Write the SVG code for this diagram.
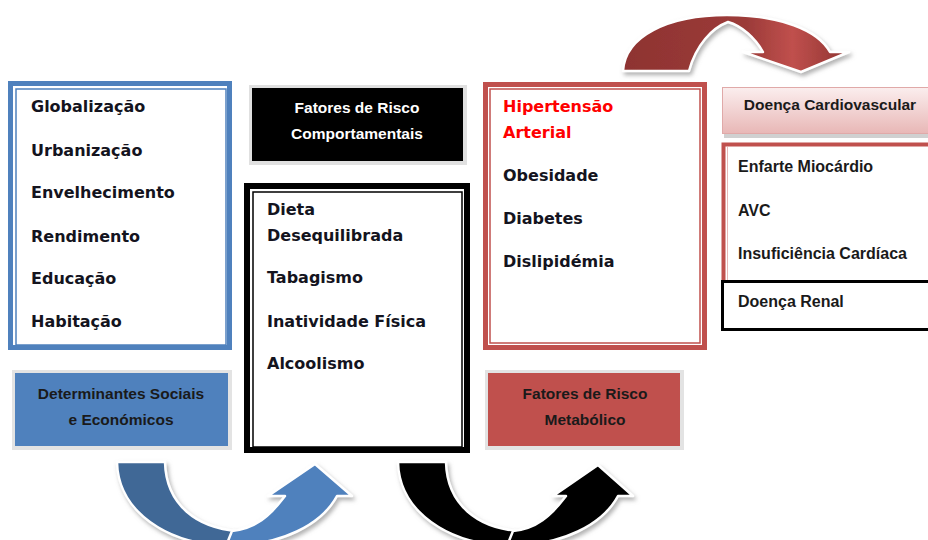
<svg xmlns="http://www.w3.org/2000/svg" width="928" height="540" viewBox="0 0 928 540">
<style>
.item{font-family:"DejaVu Sans",Verdana,sans-serif;font-weight:bold;font-size:16px;fill:#14141e}
.red{fill:#ff0000}
.hdr{font-family:"Liberation Sans",Arial,sans-serif;font-weight:bold;font-size:15.5px;text-anchor:middle;fill:#1a1a1a}
.hdrw{fill:#ffffff}
.it2{font-family:"Liberation Sans",Arial,sans-serif;font-weight:bold;font-size:16px;fill:#1a1a1a}
.arrow{stroke:#ffffff;stroke-width:2.5;stroke-linejoin:round;filter:url(#sh)}
</style>
<defs>
<filter id="sh" x="-20%" y="-20%" width="140%" height="140%">
<feDropShadow dx="2" dy="3" stdDeviation="2" flood-color="#7f7f7f" flood-opacity="0.6"/>
</filter>
<linearGradient id="pink" x1="0" y1="0" x2="0" y2="1">
<stop offset="0" stop-color="#fbeeee"/>
<stop offset="1" stop-color="#e8b7b6"/>
</linearGradient>
<linearGradient id="redArr" x1="0" y1="0" x2="1" y2="0">
<stop offset="0" stop-color="#8e3331"/>
<stop offset="0.55" stop-color="#9c3b39"/>
<stop offset="0.75" stop-color="#c0504d"/>
<stop offset="1" stop-color="#8e3331"/>
</linearGradient>
</defs>

<g id="connectors">
<g id="arrow-blue">
<path class="arrow" fill="#3f6796" d="M117,462 C118,510 165,546 234,546 L238,531 C197,528 166,505 165,462 Z"/>
<path class="arrow" fill="#4f81bd" d="M226,546 C282,546 322,524 337,496 L352,496 L315,464 L268,496 L285,496 C270,516 255,529 232,531 Z"/>
</g>
<g id="arrow-black">
<path class="arrow" fill="#000000" d="M398,462 C399,510 446,546 515,546 L519,531 C478,528 447,505 446,462 Z"/>
<path class="arrow" fill="#000000" d="M507,546 C563,546 603,524 618,496 L633,496 L598,465 L553,496 L566,496 C551,516 536,529 513,531 Z"/>
</g>
<g id="arrow-red">
<path class="arrow" fill="url(#redArr)" d="M623,71 C625,36 668,15 727,15 C780,15 818,30 830,52 L849,52 L801,72 L743,52 L763,52 C755,38 742,26 728,22 C712,28 696,45 689,71 Z"/>
</g>
</g>

<g id="node-social-list">
<rect x="10.5" y="83.5" width="219" height="264" fill="#ffffff" stroke="#4f81bd" stroke-width="5"/>
<rect x="16" y="89" width="210" height="256" fill="none" stroke="#4f81bd" stroke-width="1.5"/>
<text class="item" x="31" y="112">Globalização</text>
<text class="item" x="31" y="156">Urbanização</text>
<text class="item" x="31" y="198">Envelhecimento</text>
<text class="item" x="31" y="242">Rendimento</text>
<text class="item" x="31" y="284">Educação</text>
<text class="item" x="31" y="327">Habitação</text>
</g>

<g id="node-social-header">
<rect x="12" y="370" width="220" height="80" fill="#e3e3e3"/>
<rect x="15" y="373" width="213" height="73" fill="#4f81bd"/>
<text class="hdr" x="121" y="399">Determinantes Sociais</text>
<text class="hdr" x="121" y="425">e Económicos</text>
</g>

<g id="node-behav-header">
<rect x="249" y="85" width="218" height="80" fill="#e0e0e0"/>
<rect x="252" y="88" width="211" height="73" fill="#000000"/>
<text class="hdr hdrw" x="357" y="113">Fatores de Risco</text>
<text class="hdr hdrw" x="357" y="139">Comportamentais</text>
</g>

<g id="node-behav-list">
<rect x="247" y="186" width="220" height="264" fill="#ffffff" stroke="#000000" stroke-width="6"/>
<rect x="253" y="192" width="209" height="255" fill="none" stroke="#000000" stroke-width="1.5"/>
<text class="item" x="267" y="215">Dieta</text>
<text class="item" x="267" y="241">Desequilibrada</text>
<text class="item" x="267" y="283">Tabagismo</text>
<text class="item" x="267" y="327">Inatividade Física</text>
<text class="item" x="267" y="369">Alcoolismo</text>
</g>

<g id="node-metab-list">
<rect x="485.5" y="84.5" width="219" height="263" fill="#ffffff" stroke="#c0504d" stroke-width="5"/>
<rect x="490" y="89" width="210" height="254" fill="none" stroke="#c0504d" stroke-width="1.5"/>
<text class="item red" x="503" y="112">Hipertensão</text>
<text class="item red" x="503" y="138">Arterial</text>
<text class="item" x="503" y="181">Obesidade</text>
<text class="item" x="503" y="224">Diabetes</text>
<text class="item" x="503" y="267">Dislipidémia</text>
</g>

<g id="node-metab-header">
<rect x="485" y="370" width="199" height="80" fill="#e3e3e3"/>
<rect x="488" y="373" width="192" height="73" fill="#c0504d"/>
<text class="hdr" x="585" y="399">Fatores de Risco</text>
<text class="hdr" x="585" y="425">Metabólico</text>
</g>

<g id="node-cv-header">
<rect x="724" y="90" width="220" height="48" fill="#d0d0d0"/>
<rect x="722.5" y="87.5" width="220" height="46" fill="url(#pink)" stroke="#e0a9a8" stroke-width="1"/>
<text class="hdr" x="830" y="110">Doença Cardiovascular</text>
</g>

<g id="node-cv-list">
<rect x="723.5" y="144.5" width="220" height="140" fill="#ffffff" stroke="#c0504d" stroke-width="4"/>
<line x1="727.5" y1="147" x2="727.5" y2="282" stroke="#e6b9b8" stroke-width="1"/>
<text class="it2" x="738" y="172">Enfarte Miocárdio</text>
<text class="it2" x="738" y="216">AVC</text>
<text class="it2" x="738" y="259">Insuficiência Cardíaca</text>
</g>

<g id="node-renal">
<rect x="722.5" y="281.5" width="220" height="48" fill="#ffffff" stroke="#000000" stroke-width="3"/>
<text class="it2" x="738" y="307">Doença Renal</text>
</g>
</svg>
